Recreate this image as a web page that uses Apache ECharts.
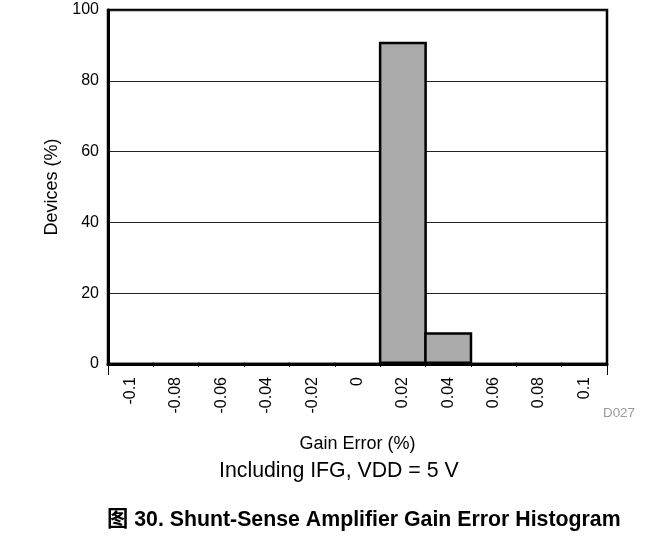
<!DOCTYPE html>
<html>
<head>
<meta charset="utf-8">
<script src="https://cdn.jsdelivr.net/npm/echarts@6/dist/echarts.min.js"></script>
<style>
html,body{margin:0;padding:0;background:#fff;}
#chart{width:663px;height:558px;}
</style>
</head>
<body>
<div id="chart"></div>
<script>
var categories = ['-0.1','-0.08','-0.06','-0.04','-0.02','0','0.02','0.04','0.06','0.08','0.1'];
var devices = [0,0,0,0,0,0,91,9,0,0,0];
var yTicks = {min: 0, max: 100, interval: 20};
var xTitle = 'Gain Error (%)';
var yTitle = 'Devices (%)';
var subTitle = 'Including IFG, VDD = 5 V';
var codeLabel = 'D027';
var caption = '图 30. Shunt-Sense Amplifier Gain Error Histogram';

var FONT = '"Liberation Sans", Arial, "Noto Sans CJK SC", sans-serif';
var chart = echarts.init(document.getElementById('chart'), null, {renderer: 'canvas'});
chart.setOption({
  animation: false,
  backgroundColor: '#fff',
  grid: {
    left: 108, top: 10, width: 499, height: 354,
    show: true, borderColor: '#000', borderWidth: 2.5,
    containLabel: false, outerBoundsMode: 'none'
  },
  xAxis: [{
    type: 'category',
    data: categories,
    boundaryGap: true,
    name: xTitle,
    nameLocation: 'middle',
    nameGap: 71,
    nameTextStyle: {fontFamily: FONT, fontSize: 18, color: '#000'},
    axisLine: {lineStyle: {color: '#000', width: 3}},
    axisTick: {show: true, length: 3, lineStyle: {color: '#000', width: 1}},
    axisLabel: {rotate: 90, margin: 13, fontFamily: FONT, fontSize: 16, color: '#000', interval: 0},
    splitLine: {show: false}
  }, {
    type: 'value',
    position: 'bottom',
    min: 0, max: 1, interval: 1,
    axisLine: {show: false},
    axisTick: {show: true, length: 11, lineStyle: {color: '#000', width: 1}},
    axisLabel: {show: false},
    splitLine: {show: false}
  }],
  yAxis: {
    type: 'value',
    min: yTicks.min, max: yTicks.max, interval: yTicks.interval,
    name: yTitle,
    nameLocation: 'middle',
    nameGap: 47,
    nameTextStyle: {fontFamily: FONT, fontSize: 18, color: '#000'},
    axisLine: {show: true, lineStyle: {color: '#000', width: 3}},
    axisTick: {show: false},
    axisLabel: {margin: 9, fontFamily: FONT, fontSize: 16, color: '#000'},
    splitLine: {show: true, lineStyle: {color: '#222', width: 1}}
  },
  series: [{
    type: 'bar',
    xAxisIndex: 0,
    data: devices,
    barWidth: 48,
    barGap: '0%',
    itemStyle: {color: '#aaaaaa', borderColor: '#000', borderWidth: 2.5}
  }],
  graphic: [
    {type: 'text', left: 219, top: 460, style: {text: subTitle, font: '21.3px ' + FONT, fill: '#000'}},
    {type: 'text', left: 603, top: 407, style: {text: codeLabel, font: '13.4px ' + FONT, fill: '#999'}},
    {type: 'text', left: 107, top: 509, style: {text: caption, font: 'bold 21.3px ' + FONT, fill: '#000'}}
  ]
});
</script>
</body>
</html>
